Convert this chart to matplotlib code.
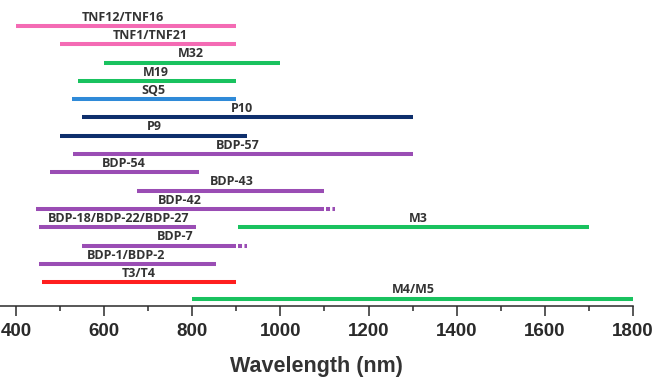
import matplotlib
matplotlib.use("Agg")
import matplotlib.pyplot as plt
from matplotlib.ticker import MultipleLocator

# ---- data ----
names = ["TNF12/TNF16", "TNF1/TNF21", "M32", "M19", "SQ5", "P10", "P9", "BDP-57",
         "BDP-54", "BDP-43", "BDP-42", "BDP-18/BDP-22/BDP-27", "M3", "BDP-7",
         "BDP-1/BDP-2", "T3/T4", "M4/M5"]
starts = [400, 500, 600, 540, 528, 550, 500, 530, 477, 675, 445, 452, 905, 550, 452, 460, 800]
ends = [900, 900, 1000, 900, 900, 1300, 925, 1300, 815, 1100, 1100, 808, 1700, 900, 855, 900, 1800]
dotted_end = [None, None, None, None, None, None, None, None, None, None, 1125, None, None, 925, None, None, None]
rows = [0, 1, 2, 3, 4, 5, 6, 7, 8, 9, 10, 11, 11, 12, 13, 14, 14.9]
groups = ["pink", "pink", "green", "green", "blue", "navy", "navy", "purple", "purple",
          "purple", "purple", "purple", "green", "purple", "purple", "red", "green"]
label_x = [643, 704, 797, 718, 711, 913, 713, 904, 646, 890, 772, 632, 1312, 761, 650, 679, 1301]

xticks = [400, 600, 800, 1000, 1200, 1400, 1600, 1800]
xlabel = "Wavelength (nm)"

colors = {"pink": "#F46BB4", "green": "#19C25F", "blue": "#2F8AD8", "navy": "#0E2F6C",
          "purple": "#9A4DB4", "red": "#FF1E1E"}

fig = plt.figure(figsize=(6.56, 3.79), dpi=100)
ax = fig.add_axes([0, 73 / 379, 633 / 656, 306 / 379])

for n, s, e, d, r, g, lx in zip(names, starts, ends, dotted_end, rows, groups, label_x):
    c = colors[g]
    ax.plot([s, e], [r, r], color=c, lw=2.9, solid_capstyle="butt")
    if d is not None:
        ax.plot([e + 3, d], [r, r], color=c, lw=2.9, linestyle=(0, (1, 0.6)))
    ax.text(lx, r - 0.13, n, ha="center", va="bottom", fontsize=9,
            fontweight="bold", color="#333333", family="Open Sans")

ax.set_xlim(364, 1800)
ax.set_ylim(15.3, -1.42)
ax.set_xticks(xticks)
ax.xaxis.set_minor_locator(MultipleLocator(100))
ax.tick_params(axis="x", which="major", length=7, width=1.1, direction="out",
               labelsize=13.5, pad=5, colors="#2a2a2a")
ax.tick_params(axis="x", which="minor", length=3.5, width=1.1, direction="out", colors="#2a2a2a")
for lab in ax.get_xticklabels():
    lab.set_fontweight("bold")
    lab.set_family("Liberation Sans")
    lab.set_color("#2a2a2a")
ax.set_yticks([])
for sp in ["left", "right", "top"]:
    ax.spines[sp].set_visible(False)
ax.spines["bottom"].set_linewidth(1.1)
ax.spines["bottom"].set_color("#2a2a2a")
ax.set_xlabel(xlabel, fontsize=15.5, fontweight="bold", family="Liberation Sans",
              color="#333333", labelpad=12)

fig.savefig("out.png", dpi=100)
